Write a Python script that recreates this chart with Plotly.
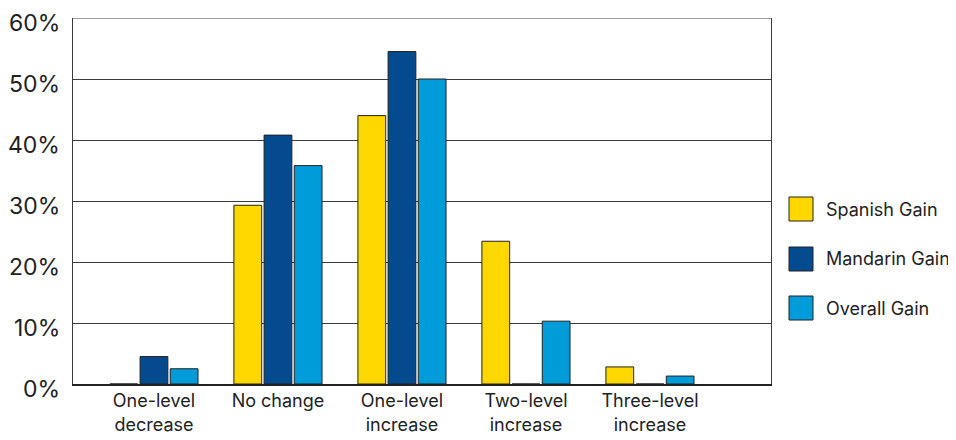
import plotly.graph_objects as go

categories = ["One-level<br>decrease", "No change", "One-level<br>increase", "Two-level<br>increase", "Three-level<br>increase"]
spanish_gain = [0.0, 29.3, 44.0, 23.4, 2.8]
mandarin_gain = [4.5, 40.8, 54.5, 0.0, 0.0]
overall_gain = [2.5, 35.8, 50.0, 10.3, 1.3]
series_names = ["Spanish Gain", "Mandarin Gain", "Overall Gain"]
series_colors = ["#FFD800", "#034A8F", "#009BD9"]
y_tickvals = [0, 10, 20, 30, 40, 50, 60]
y_ticktext = ["0%", "10%", "20%", "30%", "40%", "50%", "60%"]

FONT = "Inter, Lato, sans-serif"

fig = go.Figure()
for name, vals, col in zip(series_names, [spanish_gain, mandarin_gain, overall_gain], series_colors):
    fig.add_trace(go.Bar(
        x=categories, y=vals, name=name,
        marker=dict(color=col, line=dict(color="#222222", width=1)),
        showlegend=False,
    ))

# page body has an 8px margin; figure sized to fit the 956x440 window
OFF = 8
W, H = 956 - OFF, 440 - OFF
ml, mr, mt, mb = 73 - OFF, 185, 18 - OFF, 56
pw = W - ml - mr
ph = H - mt - mb

def px_to_paper_x(px):
    return (px - OFF - ml) / pw

def px_to_paper_y(py):
    return (H - mb - (py - OFF)) / ph

# y tick labels (sit slightly below their gridlines, as in the reference)
for v, t in zip(y_tickvals, y_ticktext):
    fig.add_annotation(xref="paper", yref="y", x=0, y=v, text=t,
                       showarrow=False, xanchor="right", yanchor="middle",
                       xshift=-11, yshift=-5,
                       font=dict(family=FONT, size=23, color="#222222"))

# custom legend
legend_centers = [209, 259, 308]
for name, col, cy in zip(series_names, series_colors, legend_centers):
    fig.add_shape(type="rect", xref="paper", yref="paper",
                  x0=px_to_paper_x(789), x1=px_to_paper_x(813),
                  y0=px_to_paper_y(cy + 12), y1=px_to_paper_y(cy - 12),
                  fillcolor=col, line=dict(color="#222222", width=1))
    fig.add_annotation(xref="paper", yref="paper",
                       x=px_to_paper_x(824), y=px_to_paper_y(cy),
                       text=name, showarrow=False, xanchor="left", yanchor="middle",
                       font=dict(family=FONT, size=18, color="#222222"))

fig.update_layout(
    width=W, height=H,
    margin=dict(l=ml, r=mr, t=mt, b=mb, pad=0, autoexpand=False),
    paper_bgcolor="white", plot_bgcolor="white",
    barmode="group", bargap=0.27, bargroupgap=0.08,
    font=dict(family=FONT, color="#222222"),
    xaxis=dict(
        type="category", range=[-0.653, 4.976], automargin=False,
        showgrid=False, showline=True, linecolor="#222222", linewidth=1.5,
        ticks="", tickfont=dict(size=18, family=FONT, color="#222222"),
        mirror=False, zeroline=False,
    ),
    yaxis=dict(
        range=[0, 60], tickvals=y_tickvals, showticklabels=False, automargin=False,
        showgrid=True, gridcolor="#3a3a3a", gridwidth=1,
        showline=True, linecolor="#3a3a3a", linewidth=1, mirror=True,
        ticks="", zeroline=False,
    ),
)

# top border line of the plot area at 60%
fig.add_shape(type="line", xref="paper", yref="y", x0=0, x1=1, y0=60, y1=60,
              line=dict(color="#3a3a3a", width=1), layer="above")

fig.write_html("out.html")
